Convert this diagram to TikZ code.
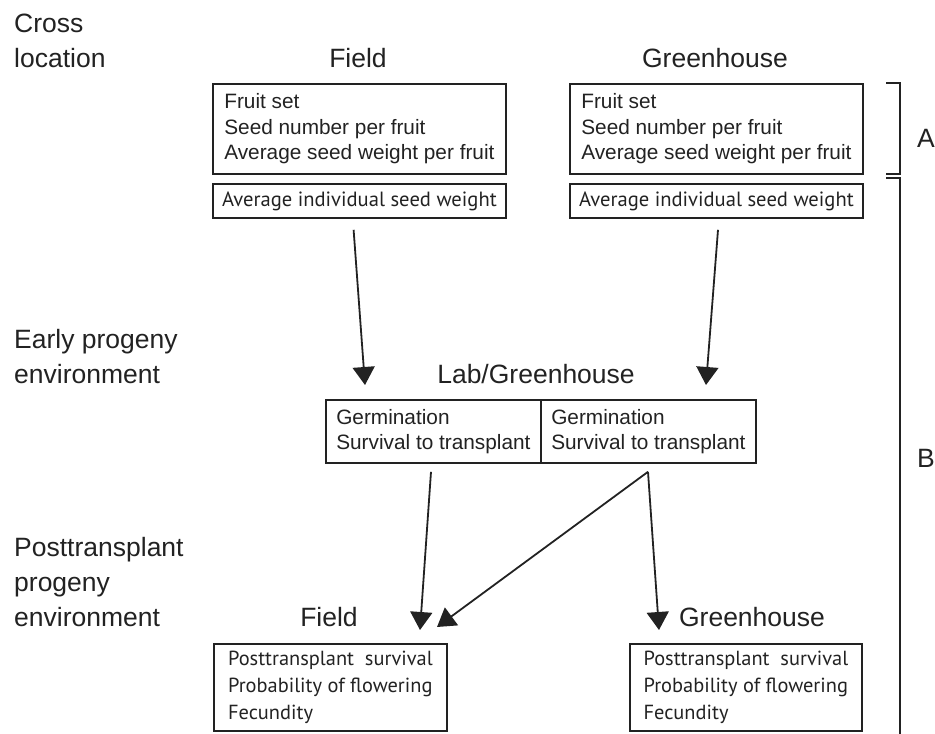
\documentclass[tikz,border=0pt]{standalone}
\usepackage{fontspec}
\setmainfont{Liberation Sans}
\newfontfamily\myrfont{PT Sans}
\usetikzlibrary{arrows.meta,calc}
\definecolor{ink}{HTML}{222222}
\begin{document}
\begin{tikzpicture}[x=1pt,y=-1pt,
  lbl/.style={inner sep=0pt, anchor=base west, font=\fontsize{26.5}{35}\selectfont, align=left, text=ink},
  hd/.style={inner sep=0pt, anchor=base, font=\fontsize{26.5}{35}\selectfont, text=ink},
  box/.style={draw=ink, line width=1.8pt, rectangle, anchor=north west, align=left, text=ink, inner sep=0pt},
  hel/.style={font=\fontsize{20.8}{25.5}\selectfont},
  myr/.style={font=\myrfont\fontsize{20.6}{27}\selectfont},
  myrb/.style={font=\myrfont\fontsize{20.4}{27}\selectfont},
  arr/.style={draw=ink, line width=1.8pt, -{Triangle[width=22pt,length=18pt]}},
  brk/.style={draw=ink, line width=1.8pt},
]
\useasboundingbox (0,0) rectangle (935,734);
% left labels (base = last line)
\node[lbl] (cross) at (14,67) {Cross\\location};
\node[lbl] (early) at (14,383) {Early progeny\\environment};
\node[lbl] (post) at (14,626) {Posttransplant\\progeny\\environment};
% headings
\node[hd] (hField) at (358,67) {Field};
\node[hd] (hGreen) at (715,67) {Greenhouse};
\node[hd] (hLab) at (536,383) {Lab/Greenhouse};
\node[hd] (hField2) at (329,626) {Field};
\node[hd] (hGreen2) at (752,626) {Greenhouse};
% top boxes
\node[box,hel,minimum width=293pt,minimum height=90pt] (fA) at (212,83) {Fruit set\\Seed number per fruit\\Average seed weight per fruit};
\node[box,hel,minimum width=293pt,minimum height=90pt] (gA) at (569,83) {Fruit set\\Seed number per fruit\\Average seed weight per fruit};
\node[box,myr,minimum width=293pt,minimum height=34pt] (fW) at (212,183) {Average individual seed weight};
\node[box,myr,minimum width=293pt,minimum height=34pt] (gW) at (569,183) {Average individual seed weight};
% middle
\node[box,hel,minimum width=215pt,minimum height=63pt] (mL) at (325,399) {Germination\\Survival to transplant};
\node[box,hel,minimum width=215pt,minimum height=63pt] (mR) at (540,399) {Germination\\Survival to transplant};
% bottom
\node[box,myrb,minimum width=233pt,minimum height=87pt] (pF) at (213,643) {Posttransplant\ \ survival\\Probability of flowering\\Fecundity};
\node[box,myrb,minimum width=232pt,minimum height=87pt] (pG) at (629,643) {Posttransplant\ \ survival\\Probability of flowering\\Fecundity};
% arrows
\draw[arr] ([xshift=141.6pt,yshift=-11pt]fW.south west) -- ([xshift=40pt,yshift=14pt]mL.north west);
\draw[arr] ([xshift=149pt,yshift=-11pt]gW.south west) -- ([xshift=166pt,yshift=14pt]mR.north west);
\draw[arr] ([xshift=106pt,yshift=-8pt]mL.south west) -- ([xshift=207pt,yshift=13pt]pF.north west);
\draw[arr] ([xshift=108pt,yshift=-8pt]mR.south west) -- ([xshift=224pt,yshift=16pt]pF.north west);
\draw[arr] ([xshift=108pt,yshift=-8pt]mR.south west) -- ([xshift=30pt,yshift=13pt]pG.north west);
% brackets
\draw[brk] (886,83) -- (900,83) -- (900,174) -- (886,174);
\draw[brk] (886,178) -- (900,178) -- (900,734);
\node[hd] (labA) at (926,147) {A};
\node[hd] (labB) at (926,467) {B};
\end{tikzpicture}
\end{document}
